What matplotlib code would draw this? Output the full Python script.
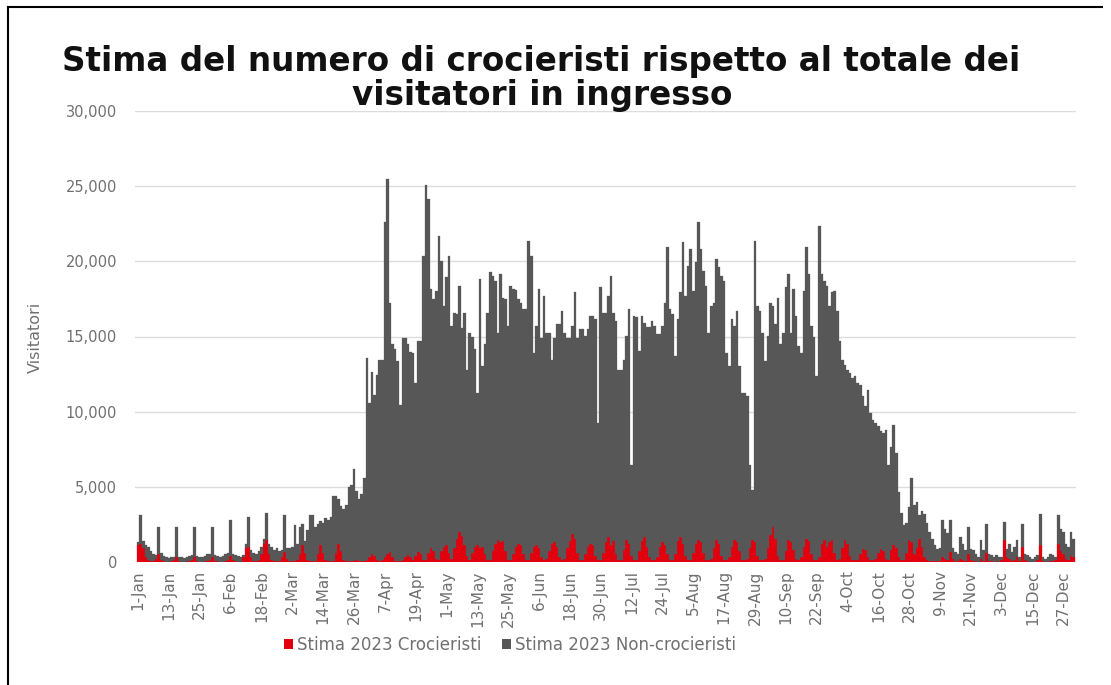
import matplotlib.pyplot as plt
import numpy as np
from matplotlib.lines import Line2D
from matplotlib.patches import Patch

# ---------------------------------------------------------------------------
# Daily totals (crocieristi + non-crocieristi), 2023
# ---------------------------------------------------------------------------
TOT_JAN = [1300, 3100, 1400, 1100, 1000, 700, 500, 450, 2300, 600, 400, 300, 250, 300, 350, 2350,
           350, 300, 250, 350, 400, 450, 2300, 400, 350, 300, 400, 500, 550, 2350, 450]
TOT_FEB = [400, 350, 400, 500, 600, 2800, 550, 450, 400, 350, 450, 1200, 3000, 800, 600, 500,
           700, 1000, 1500, 3250, 1200, 1000, 800, 900, 700, 800, 3100, 900]
TOT_MAR = [900, 1000, 2450, 1200, 2300, 2500, 1400, 2100, 3100, 3100, 2300, 2500, 2700, 2600, 2900, 2800,
           3000, 4400, 4400, 4200, 3700, 3500, 3800, 5000, 5100, 6200, 4700, 4200, 4500, 5600, 13600]
TOT_APR = [10550, 12670, 11100, 12440, 13440, 13440, 22600, 25450, 17260, 14500, 14140, 13360, 10470, 14920, 14900,
           14480, 13950, 13920, 11910, 14700, 14700, 20380, 25100, 24160, 18150, 17480, 18040, 21710, 20040, 17040]
TOT_MAY = [18930, 20380, 15700, 16590, 16500, 18370, 15590, 16590, 12800, 15250, 15000, 14140, 11250, 18820, 13030, 14500,
           16590, 19260, 19000, 18700, 15250, 19150, 17590, 17500, 15700, 18370, 18150, 18100, 17480, 17260, 16810]
TOT_JUN = [16800, 21380, 20380, 13920, 15700, 18150, 14920, 17700, 15250, 15200, 13470, 14920, 15810, 15800, 16700,
           15250, 14920, 14900, 15700, 17930, 14920, 15480, 15480, 15030, 15480, 16370, 16370, 16150, 9240, 18260]
TOT_JUL = [16590, 16590, 17700, 19040, 16590, 16030, 12800, 12800, 13470, 15030, 16810, 6460, 16370, 16300, 14030, 16370,
           15920, 15600, 15600, 16030, 15700, 15140, 15140, 15700, 17260, 20930, 16810, 16480, 13700, 16150, 17930]
TOT_AUG = [21270, 17700, 19710, 20820, 18040, 19930, 22600, 20820, 19370, 18370, 15250, 17040, 17260, 20150, 19600, 19040,
           18700, 13920, 13030, 16150, 15700, 16700, 13030, 11250, 11250, 11020, 6460, 4790, 21380, 17040, 16700]
TOT_SEP = [15250, 13360, 15030, 17260, 17040, 15810, 17590, 14480, 15250, 18260, 19150, 15250, 18150, 16370, 14360,
           13920, 18040, 20930, 19150, 15700, 15000, 12360, 22380, 19150, 18700, 18370, 17040, 17930, 18040, 16700]
TOT_OCT = [14700, 13470, 13100, 12800, 12580, 12250, 12360, 11910, 11800, 11020, 10350, 11470, 9910, 9460, 9240, 9020,
           8690, 8570, 8800, 6460, 7680, 9130, 7240, 4680, 3230, 2450, 2600, 3670, 5560, 3800, 4000]
TOT_NOV = [3100, 3400, 3200, 2600, 2000, 1500, 1100, 850, 900, 2780, 2200, 1900, 2780, 900, 650,
           560, 1670, 1220, 780, 2330, 850, 780, 560, 330, 1440, 780, 2550, 560, 440, 330]
TOT_DEC = [440, 330, 330, 2660, 890, 1220, 670, 1000, 1440, 330, 2550, 560, 440, 330, 220, 330,
           440, 3220, 330, 220, 330, 560, 440, 330, 3110, 2220, 2000, 1220, 1000, 2000, 1500]

# Daily cruise passengers (red part at the bottom of each bar)
CRU_JAN = [1100, 1200, 900, 300, 150, 80, 60, 200, 550, 150, 50, 30, 30, 40, 100, 350,
           80, 30, 30, 40, 50, 100, 300, 80, 30, 30, 40, 50, 100, 300, 60]
CRU_FEB = [40, 30, 30, 50, 150, 400, 100, 40, 30, 30, 300, 900, 1000, 300, 60, 40,
           100, 500, 1200, 1440, 500, 100, 60, 50, 80, 300, 670, 200]
CRU_MAR = [60, 50, 80, 100, 500, 1100, 600, 100, 80, 60, 80, 500, 1100, 600, 100, 60,
           50, 80, 600, 1220, 700, 100, 60, 50, 60, 80, 100, 60, 50, 80, 150]
CRU_APR = [300, 550, 400, 100, 60, 100, 300, 550, 650, 300, 80, 60, 50, 100, 300,
           450, 350, 100, 400, 650, 500, 150, 100, 600, 900, 700, 200, 100, 700, 1000]
CRU_MAY = [1100, 600, 200, 900, 1500, 2000, 1700, 1100, 400, 100, 600, 1000, 1100, 900, 1000, 500,
           100, 150, 700, 1200, 1440, 1300, 1400, 700, 150, 100, 500, 1000, 1220, 1100, 500]
CRU_JUN = [100, 150, 600, 1000, 1100, 900, 300, 100, 200, 700, 1200, 1330, 1000, 300, 100,
           200, 900, 1400, 1890, 1500, 600, 100, 150, 500, 1000, 1220, 1100, 400, 100, 150]
CRU_JUL = [600, 1300, 1670, 1100, 1400, 500, 100, 150, 800, 1440, 1200, 400, 100, 100, 700, 1400,
           1670, 1000, 300, 100, 100, 300, 1000, 1330, 1100, 500, 100, 100, 500, 1400, 1670]
CRU_AUG = [1200, 400, 100, 100, 600, 1200, 1440, 1300, 600, 100, 100, 200, 900, 1440, 1200, 400,
           100, 100, 300, 1000, 1440, 1300, 700, 100, 100, 200, 900, 1440, 1300, 400, 100]
CRU_SEP = [100, 200, 900, 1800, 2330, 1500, 400, 100, 150, 700, 1440, 1300, 800, 200, 100,
           300, 1000, 1550, 1400, 500, 100, 100, 300, 1200, 1440, 1000, 1300, 1440, 600, 100]
CRU_OCT = [200, 900, 1440, 1200, 400, 100, 100, 150, 500, 890, 800, 300, 100, 100, 200, 600,
           890, 700, 200, 100, 800, 1100, 900, 300, 100, 150, 600, 1440, 1300, 500, 900]
CRU_NOV = [1550, 1000, 300, 100, 80, 60, 50, 40, 40, 300, 200, 100, 670, 200, 60,
           40, 200, 150, 60, 500, 100, 60, 40, 30, 200, 80, 600, 60, 40, 30]
CRU_DEC = [40, 30, 100, 1440, 300, 200, 60, 100, 300, 60, 1000, 100, 40, 30, 30, 30,
           100, 1100, 60, 30, 30, 60, 40, 100, 1220, 700, 500, 200, 100, 400, 300]

TICK_LABELS = ["1-Jan", "13-Jan", "25-Jan", "6-Feb", "18-Feb", "2-Mar", "14-Mar", "26-Mar",
               "7-Apr", "19-Apr", "1-May", "13-May", "25-May", "6-Jun", "18-Jun", "30-Jun",
               "12-Jul", "24-Jul", "5-Aug", "17-Aug", "29-Aug", "10-Sep", "22-Sep", "4-Oct",
               "16-Oct", "28-Oct", "9-Nov", "21-Nov", "3-Dec", "15-Dec", "27-Dec"]
Y_TICKS = [0, 5000, 10000, 15000, 20000, 25000, 30000]

TOTAL = np.array(TOT_JAN + TOT_FEB + TOT_MAR + TOT_APR + TOT_MAY + TOT_JUN +
                 TOT_JUL + TOT_AUG + TOT_SEP + TOT_OCT + TOT_NOV + TOT_DEC)
CRUISE = np.array(CRU_JAN + CRU_FEB + CRU_MAR + CRU_APR + CRU_MAY + CRU_JUN +
                  CRU_JUL + CRU_AUG + CRU_SEP + CRU_OCT + CRU_NOV + CRU_DEC)
NON_CRUISE = np.clip(TOTAL - CRUISE, 0, None)
DAYS = np.arange(len(TOTAL))

RED = "#E2000F"
GREY = "#575757"
TEXT_GREY = "#707070"
NARROW = ["Liberation Sans Narrow", "DejaVu Sans"]

W, H = 1111, 685
fig = plt.figure(figsize=(W / 100, H / 100), dpi=100)
ax = fig.add_axes([135 / W, 1 - 562 / H, 941 / W, 451 / H])

ax.bar(DAYS, CRUISE, width=1.0, color=RED, edgecolor=RED, linewidth=0.2, zorder=3)
ax.bar(DAYS, NON_CRUISE, bottom=CRUISE, width=1.0, color=GREY, edgecolor=GREY,
       linewidth=0.2, zorder=3)

ax.set_xlim(-1.2, 364.9)
ax.set_ylim(0, 30000)
ax.set_yticks(Y_TICKS)
ax.set_yticklabels([f"{v:,}" for v in Y_TICKS], color=TEXT_GREY, fontsize=10.5)
ax.set_xticks(np.arange(0, 361, 12))
ax.set_xticklabels(TICK_LABELS, rotation=90, color=TEXT_GREY, fontsize=11,
                   family=NARROW, va="top", ha="center")
ax.tick_params(axis="y", length=0, pad=13)
ax.tick_params(axis="x", length=0, pad=6)
ax.grid(axis="y", color="#dcdcdc", linewidth=1, zorder=0)
for s in ax.spines.values():
    s.set_visible(False)

fig.text(35 / W, 1 - 337 / H, "Visitatori", rotation=90, ha="center", va="center",
         color=TEXT_GREY, fontsize=11.5, family=NARROW)

fig.text(541 / W, 1 - 61 / H, "Stima del numero di crocieristi rispetto al totale dei",
         ha="center", va="center", fontsize=23.5, fontweight="bold",
         family="DejaVu Sans", color="#111111")
fig.text(542 / W, 1 - 95 / H, "visitatori in ingresso",
         ha="center", va="center", fontsize=23.5, fontweight="bold",
         family="DejaVu Sans", color="#111111")

handles = [Patch(facecolor=RED, edgecolor="none"), Patch(facecolor=GREY, edgecolor="none")]
fig.legend(handles, ["Stima 2023 Crocieristi", "Stima 2023 Non-crocieristi"],
           loc="center", bbox_to_anchor=(510 / W, 1 - 645 / H), ncol=2, frameon=False,
           prop={"family": "DejaVu Sans", "size": 12}, labelcolor=TEXT_GREY,
           handlelength=0.55, handleheight=0.55, handletextpad=0.25, columnspacing=1.2)

# frame of the original screenshot
fig.add_artist(Line2D([8 / W, 8 / W], [0, 1 - 7 / H], color="black", lw=1.5))
fig.add_artist(Line2D([8 / W, 1102 / W], [1 - 7 / H, 1 - 7 / H], color="black", lw=1.5))

fig.savefig("out.png", dpi=100)
